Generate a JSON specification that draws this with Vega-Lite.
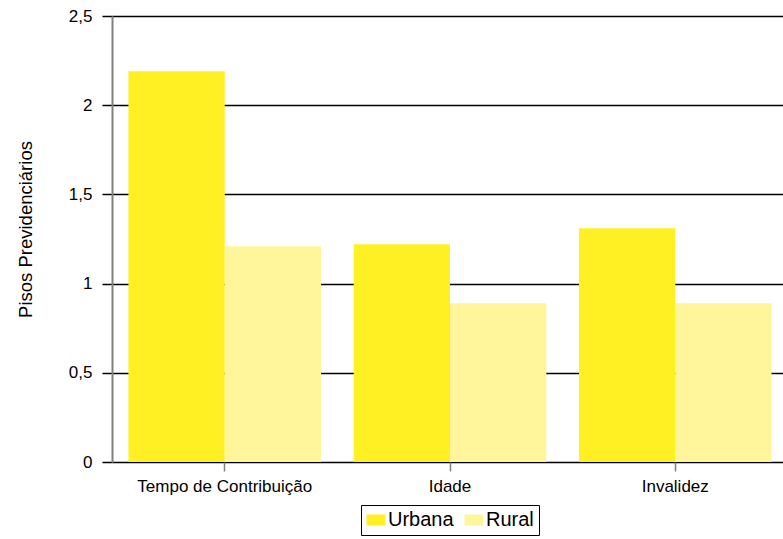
{
  "$schema": "https://vega.github.io/schema/vega-lite/v6.json",
  "autosize": "none",
  "width": 676,
  "height": 446,
  "padding": {"left": 112, "top": 16, "right": 0, "bottom": 77},
  "background": "white",
  "config": {
    "font": "Liberation Sans",
    "view": {"stroke": null}
  },
  "data": {
    "values": [
      {"categoria": "Tempo de Contribuição", "area": "Urbana", "valor": 2.19},
      {"categoria": "Tempo de Contribuição", "area": "Rural", "valor": 1.21},
      {"categoria": "Idade", "area": "Urbana", "valor": 1.22},
      {"categoria": "Idade", "area": "Rural", "valor": 0.89},
      {"categoria": "Invalidez", "area": "Urbana", "valor": 1.31},
      {"categoria": "Invalidez", "area": "Rural", "valor": 0.89}
    ]
  },
  "mark": {"type": "bar"},
  "encoding": {
    "x": {
      "field": "categoria",
      "type": "nominal",
      "sort": ["Tempo de Contribuição", "Idade", "Invalidez"],
      "scale": {"paddingInner": 0.145, "paddingOuter": 0.073},
      "axis": {
        "title": null,
        "labelAngle": 0,
        "labelFontSize": 17,
        "labelColor": "black",
        "labelPadding": 7,
        "domain": false,
        "tickColor": "#808080",
        "tickWidth": 1.5,
        "tickSize": 9,
        "grid": false
      }
    },
    "xOffset": {
      "field": "area",
      "type": "nominal",
      "sort": ["Urbana", "Rural"],
      "scale": {"paddingInner": 0, "paddingOuter": 0}
    },
    "y": {
      "field": "valor",
      "type": "quantitative",
      "scale": {"domain": [0, 2.5], "nice": false},
      "axis": {
        "title": "Pisos Previdenciários",
        "titleFontSize": 18.5,
        "titleFontWeight": "normal",
        "titleColor": "black",
        "titlePadding": 33,
        "titleY": 213,
        "values": [0, 0.5, 1, 1.5, 2, 2.5],
        "labelExpr": "replace(format(datum.value, ''), '.', ',')",
        "labelFontSize": 17,
        "labelColor": "black",
        "labelPadding": 10,
        "tickSize": 10,
        "tickColor": "black",
        "tickWidth": 1.5,
        "domainColor": "#808080",
        "domainWidth": 2,
        "grid": true,
        "gridColor": "black",
        "gridWidth": 1.5,
        "gridOpacity": 1
      }
    },
    "color": {
      "field": "area",
      "type": "nominal",
      "sort": ["Urbana", "Rural"],
      "scale": {"domain": ["Urbana", "Rural"], "range": ["#FFF024", "#FFF59A"]},
      "legend": {
        "title": null,
        "orient": "none",
        "direction": "horizontal",
        "legendX": 249,
        "legendY": 489,
        "strokeColor": "black",
        "padding": 5,
        "symbolType": "M-1,-0.58H1V0.58H-1Z",
        "symbolSize": 361,
        "symbolOpacity": 1,
        "symbolStrokeWidth": 0,
        "labelFontSize": 20,
        "labelColor": "black",
        "labelOffset": 2,
        "columnPadding": 10
      }
    }
  }
}
